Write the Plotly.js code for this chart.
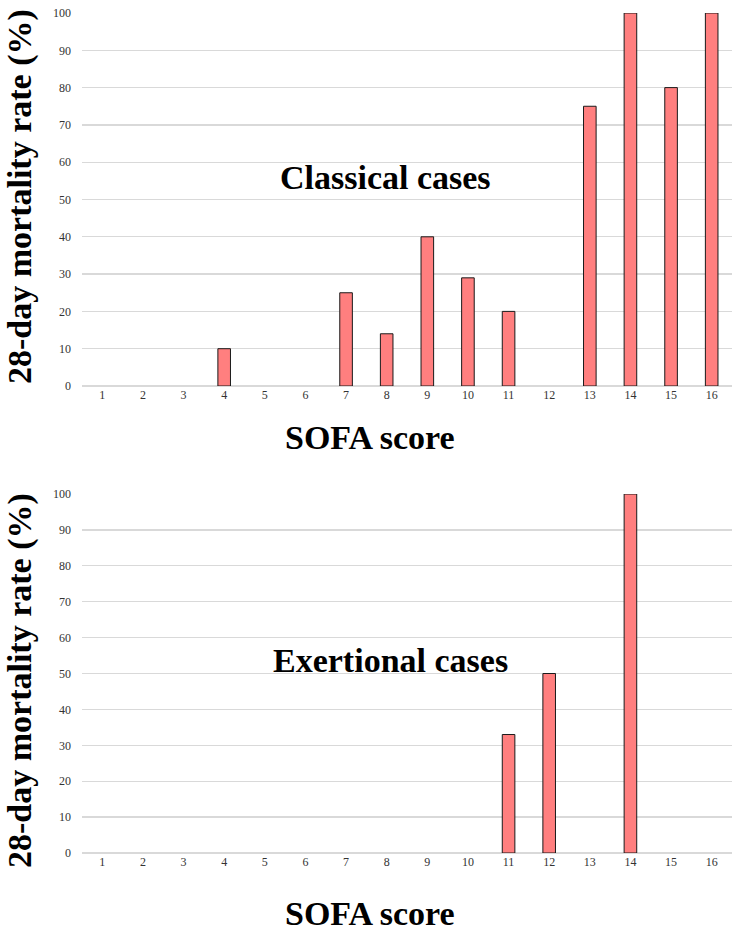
<!DOCTYPE html>
<html>
<head>
<meta charset="utf-8">
<script src="https://cdn.plot.ly/plotly-3.0.1.min.js"></script>
<style>html,body{margin:0;padding:0;background:#fff;}#chart{width:745px;height:937px;}</style>
</head>
<body>
<div id="chart"></div>
<script>
const sofaScores = [1, 2, 3, 4, 5, 6, 7, 8, 9, 10, 11, 12, 13, 14, 15, 16];
const classicalMortality = [null, null, null, 10, null, null, 25, 14, 40, 29, 20, null, 75, 100, 80, 100];
const exertionalMortality = [null, null, null, null, null, null, null, null, null, null, 33, 50, null, 100, null, null];
const yTicks = [0, 10, 20, 30, 40, 50, 60, 70, 80, 90, 100];
const panelLabels = ["Classical cases", "Exertional cases"];
const xTitle = "SOFA score";
const yTitle = "28-day mortality rate (%)";

const barStyle = {color: "#FF7F7F", line: {color: "#1a1a1a", width: 1}};
const serif = "Liberation Serif";

const traces = [
  {type: "bar", x: sofaScores, y: classicalMortality, xaxis: "x", yaxis: "y", marker: barStyle, hoverinfo: "x+y"},
  {type: "bar", x: sofaScores, y: exertionalMortality, xaxis: "x2", yaxis: "y2", marker: barStyle, hoverinfo: "x+y"}
];

const xDomain = [82 / 745, 732 / 745];
function xa(anchor) {
  return {
    domain: xDomain, anchor: anchor, range: [0.5, 16.5], tickmode: "array",
    tickvals: sofaScores, ticktext: sofaScores.map(String), showgrid: false, zeroline: false,
    showline: false, ticks: "", tickfont: {family: serif, size: 12, color: "#333333"}, fixedrange: true
  };
}
function ya(anchor, domain) {
  return {
    domain: domain, anchor: anchor, range: [0, 100], tickmode: "array", tickvals: yTicks,
    showgrid: true, gridcolor: "#d9d9d9", gridwidth: 1.3, zeroline: true, zerolinecolor: "#d9d9d9",
    zerolinewidth: 1.3, showline: false, ticks: "", ticklabelstandoff: 10,
    tickfont: {family: serif, size: 12, color: "#333333"}, fixedrange: true
  };
}

const big = {family: serif, size: 34, color: "#000000", weight: "bold"};
const layout = {
  width: 745, height: 937, margin: {l: 0, r: 0, t: 0, b: 0},
  font: {family: serif},
  paper_bgcolor: "#fff", plot_bgcolor: "#fff", showlegend: false, bargap: 0.69,
  xaxis: xa("y"), yaxis: ya("x", [1 - 386 / 937, 1 - 13 / 937]),
  xaxis2: xa("y2"), yaxis2: ya("x2", [1 - 853 / 937, 1 - 494 / 937]),
  annotations: [
    {text: panelLabels[0], x: 385 / 745, y: 1 - 178 / 937, xref: "paper", yref: "paper", showarrow: false, font: big, xanchor: "center", yanchor: "middle"},
    {text: panelLabels[1], x: 390 / 745, y: 1 - 660 / 937, xref: "paper", yref: "paper", showarrow: false, font: big, xanchor: "center", yanchor: "middle"},
    {text: xTitle, x: 370 / 745, y: 1 - 437 / 937, xref: "paper", yref: "paper", showarrow: false, font: big, xanchor: "center", yanchor: "middle"},
    {text: xTitle, x: 370 / 745, y: 1 - 913 / 937, xref: "paper", yref: "paper", showarrow: false, font: big, xanchor: "center", yanchor: "middle"},
    {text: yTitle, x: 20 / 745, y: 1 - 197 / 937, xref: "paper", yref: "paper", showarrow: false, font: big, textangle: -90, xanchor: "center", yanchor: "middle"},
    {text: yTitle, x: 20 / 745, y: 1 - 681 / 937, xref: "paper", yref: "paper", showarrow: false, font: big, textangle: -90, xanchor: "center", yanchor: "middle"}
  ]
};

Plotly.newPlot("chart", traces, layout, {displayModeBar: false, staticPlot: true});
</script>
</body>
</html>
